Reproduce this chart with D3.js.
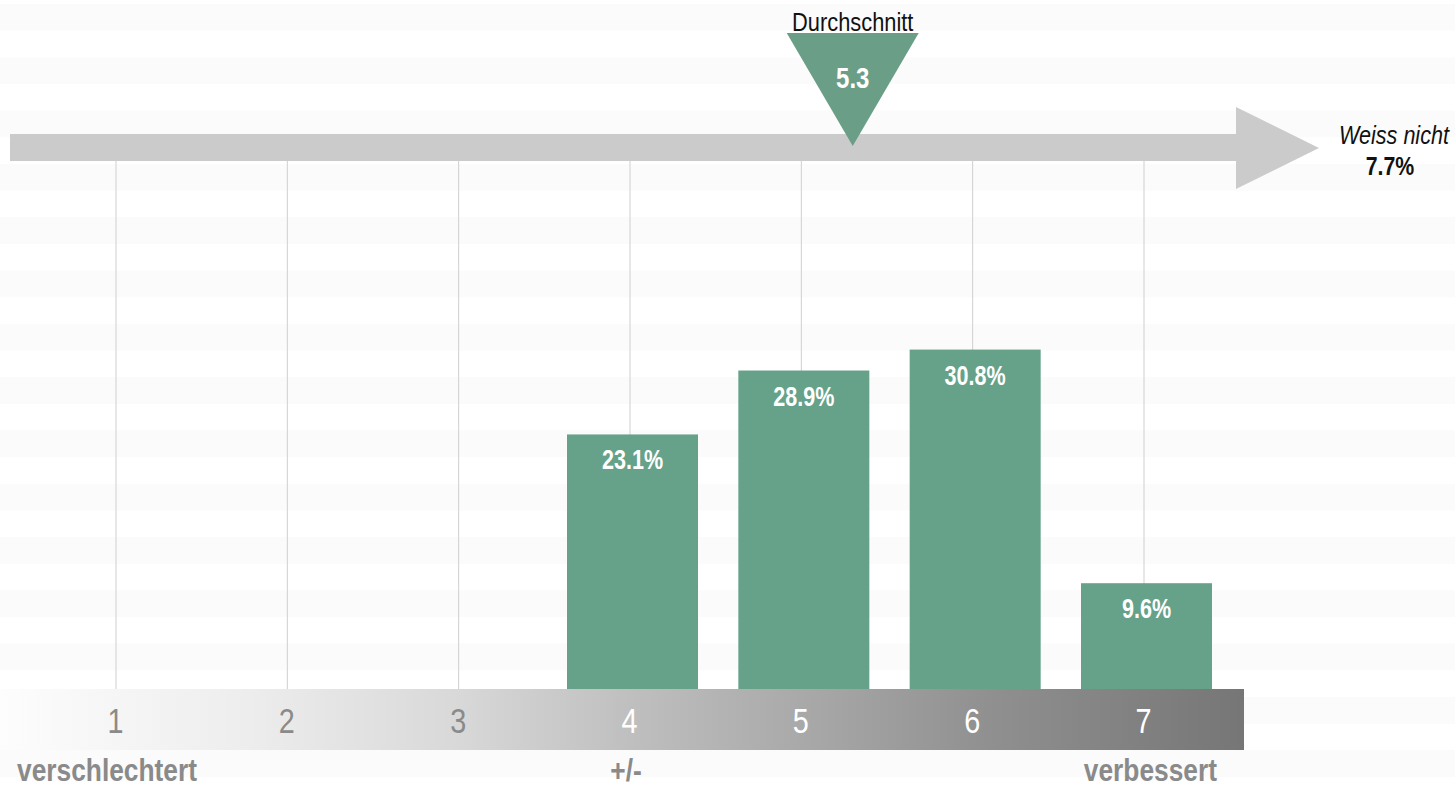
<!DOCTYPE html>
<html><head><meta charset="utf-8">
<script src="https://cdn.jsdelivr.net/npm/d3@7"></script>
<style>
html,body{margin:0;padding:0;background:#fff;}
svg{display:block;}
text{font-family:"Liberation Sans",Arimo,Arial,sans-serif;}
</style>
</head><body>
<script>
// ---- data ----
const categories = ["1","2","3","4","5","6","7"];
const values = [0, 0, 0, 23.1, 28.9, 30.8, 9.6];
const valueLabels = ["", "", "", "23.1%", "28.9%", "30.8%", "9.6%"];
const averageValue = 5.3;
const averageLabel = "Durchschnitt";
const dontKnowLabel = "Weiss nicht";
const dontKnowValue = 7.7;
const endLabelCats = ["1", "4", "7"];
const endLabelTexts = ["verschlechtert", "+/-", "verbessert"];

const W = 1455, H = 787;
const svg = d3.select("body").append("svg").attr("width", W).attr("height", H);

// helper: narrow (condensed) text via horizontal scaling
function ntext(g, x, y, str, sx, opts) {
  const t = g.append("text")
    .attr("transform", `translate(${x},${y}) scale(${sx},1)`)
    .attr("text-anchor", opts.anchor || "middle")
    .attr("fill", opts.fill || "#000")
    .attr("font-size", opts.size)
    .text(str);
  if (opts.weight) t.attr("font-weight", opts.weight);
  if (opts.style) t.attr("font-style", opts.style);
  return t;
}

// background stripes
const stripes = d3.range(15);
svg.append("g").selectAll("rect").data(stripes).join("rect")
  .attr("x", 0).attr("width", W)
  .attr("y", i => 4 + i * 53.3).attr("height", 26.7)
  .attr("fill", "#fbfbfb");

// scales
const x = d3.scalePoint().domain(categories).range([116, 1144]);
const xNum = d3.scaleLinear().domain([1, 7]).range([116, 1144]);
const y = d3.scaleLinear().domain([0, 50]).range([689, 138]);
const barW = 131, barOff = 2.5;
const green = "#66a18a";

// gridlines
svg.append("g").selectAll("line").data(categories).join("line")
  .attr("x1", d => x(d)).attr("x2", d => x(d))
  .attr("y1", 161).attr("y2", y(0))
  .attr("stroke", "#cfcfcf").attr("stroke-width", 1);

// arrow
const arrow = svg.append("g");
arrow.append("rect").attr("x", 10).attr("y", 134).attr("width", 1227).attr("height", 27).attr("fill", "#cbcbcb");
arrow.append("path").attr("d", "M1236,107 L1319,148 L1236,189 Z").attr("fill", "#cbcbcb");

// bars
const data = categories.map((c, i) => ({c, v: values[i], lab: valueLabels[i]}));
const barData = data.filter(d => d.v > 0);
svg.append("g").selectAll("rect").data(barData).join("rect")
  .attr("x", d => x(d.c) - barW / 2 + barOff)
  .attr("width", barW)
  .attr("y", d => y(d.v))
  .attr("height", d => y(0) - y(d.v))
  .attr("fill", green);
const barLabG = svg.append("g");
barData.forEach(d => {
  ntext(barLabG, x(d.c) + barOff, y(d.v) + 35, d.lab, 0.77, {fill: "#fff", weight: "bold", size: 28});
});

// gradient axis band
const defs = svg.append("defs");
const grad = defs.append("linearGradient").attr("id", "axisGrad").attr("x1", "0%").attr("x2", "100%");
[[0, "#fdfdfd"], [0.2, "#ededed"], [0.37, "#d8d8d8"], [0.5, "#c0c0c0"], [0.65, "#a8a8a8"], [0.8, "#8f8f8f"], [1, "#767676"]]
  .forEach(([o, c]) => grad.append("stop").attr("offset", o).attr("stop-color", c));
svg.append("rect").attr("x", 0).attr("y", y(0)).attr("width", 1244).attr("height", 61).attr("fill", "url(#axisGrad)");

const axis = d3.axisBottom(x).tickSize(0).tickPadding(0);
const axG = svg.append("g").attr("transform", `translate(0,${y(0)})`).call(axis);
axG.select(".domain").remove();
axG.selectAll(".tick text")
  .attr("y", null).attr("dy", null)
  .attr("transform", "translate(-1,44) scale(0.8,1)")
  .attr("font-size", 36)
  .attr("font-family", "\"Liberation Sans\",Arial,sans-serif")
  .attr("fill", (d, i) => i < 3 ? "#8a8a8a" : "#ffffff");

// end labels
const endG = svg.append("g");
endLabelCats.forEach((c, i) => {
  const anchor = i === 0 ? "start" : (i === 2 ? "end" : "middle");
  const px = i === 0 ? 17 : (i === 2 ? 1217 : x(c) - 4);
  ntext(endG, px, 781, endLabelTexts[i], 0.85, {anchor, fill: "#8a8a8a", weight: "bold", size: 31});
});

// average marker
const ax = xNum(averageValue);
svg.append("path")
  .attr("d", `M${ax - 66},33 L${ax + 66},33 L${ax},146 Z`)
  .attr("fill", "#6a9e87");
const avgG = svg.append("g");
ntext(avgG, ax, 88, averageValue.toFixed(1), 0.8, {fill: "#fff", weight: "bold", size: 30});
ntext(avgG, ax, 31, averageLabel, 0.84, {fill: "#111", size: 26});

// don't know
const dkG = svg.append("g");
ntext(dkG, 1394, 144, dontKnowLabel, 0.83, {fill: "#111", style: "italic", size: 26});
ntext(dkG, 1390, 175, dontKnowValue.toFixed(1) + "%", 0.82, {fill: "#111", weight: "bold", size: 26});
</script>
</body></html>
